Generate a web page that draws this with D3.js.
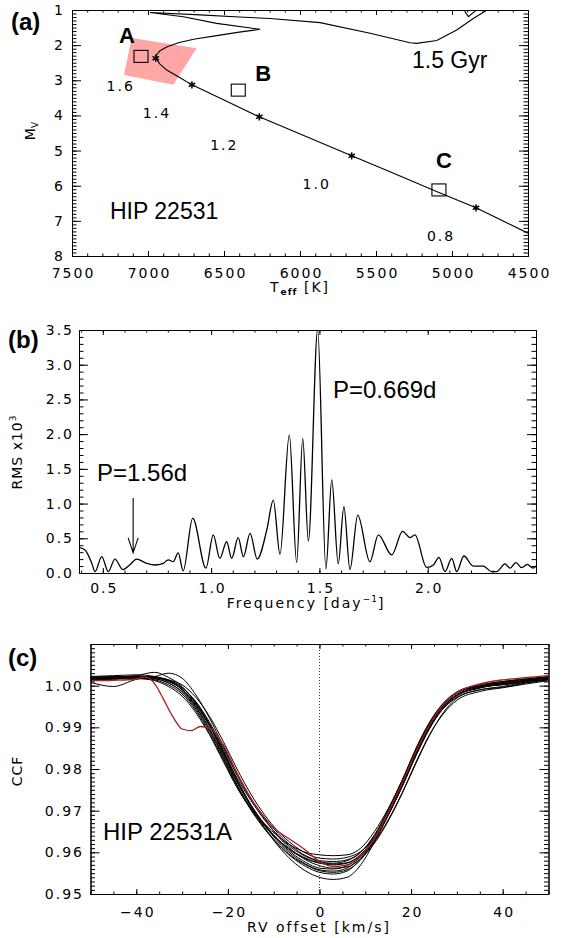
<!DOCTYPE html>
<html><head><meta charset="utf-8">
<script src="https://cdn.jsdelivr.net/npm/d3@7"></script>
<style>
body{margin:0;background:#fff;}
svg{display:block;background:#fff;}
</style></head>
<body><svg id="chart" width="564" height="938"></svg>
<script>
// ---------------- DATA ----------------
// Panel (a): isochrone, stars, squares, pink region
const aXTicks = [7500, 7000, 6500, 6000, 5500, 5000, 4500];
const aYTicks = [1, 2, 3, 4, 5, 6, 7, 8];
const isoTeff = [4500, 4842, 5086, 5400, 5660, 5960, 6268, 6500, 6711, 6800, 6877, 6921, 6949, 6945, 6921, 6877, 6800, 6700, 6548, 6400, 6263, 6548, 6768, 6987, 6658, 6400, 6197, 5868, 5539, 5276, 5232, 5100, 4969, 4860, 4761, 4700, 4930, 4914, 4892, 4834, 4800];
const isoMv   = [7.35, 6.63, 6.19, 5.62, 5.15, 4.60, 4.04, 3.56, 3.13, 2.90, 2.71, 2.54, 2.37, 2.28, 2.16, 2.05, 1.93, 1.83, 1.73, 1.63, 1.55, 1.38, 1.19, 1.07, 1.14, 1.20, 1.24, 1.36, 1.66, 1.93, 1.95, 1.87, 1.57, 1.24, 0.98, 0.50, 0.50, 1.05, 1.19, 0.98, 0.70];
const starTeff = [6949, 6711, 6268, 5660, 4842];
const starMv   = [2.37, 3.13, 4.04, 5.15, 6.63];
const massLabels = ["1.6", "1.4", "1.2", "1.0", "0.8"];
const boxLabels = ["A", "B", "C"];
const boxTeff = [7046, 6406, 5086];
const boxMv   = [2.32, 3.28, 6.12];
const regionTeff = [7107, 6680, 6834, 7158];
const regionMv   = [1.80, 2.09, 3.13, 2.85];

// Panel (b): periodogram
const bXTicks = [0.5, 1.0, 1.5, 2.0];
const bYTicks = [0, 0.5, 1.0, 1.5, 2.0, 2.5, 3.0, 3.5];
const freq = [0.39,0.418,0.449,0.464,0.495,0.525,0.556,0.592,0.625,0.656,0.702,0.741,0.779,0.802,0.825,0.848,0.871,0.915,0.976,1.01,1.04,1.072,1.095,1.125,1.149,1.18,1.213,1.257,1.287,1.318,1.361,1.395,1.423,1.449,1.492,1.53,1.557,1.587,1.613,1.641,1.677,1.733,1.772,1.834,1.884,1.918,1.941,1.995,2.026,2.052,2.08,2.111,2.134,2.167,2.21,2.257,2.295,2.318,2.357,2.38,2.407,2.434,2.46,2.487,2.5];
const rms  = [0.37,0.33,0.14,0.02,0.235,0.02,0.2,0.05,0.12,0.2,0.14,0.115,0.14,0.19,0.163,0.29,0.03,0.79,0.07,0.55,0.21,0.45,0.21,0.51,0.235,0.57,0.2,0.62,1.05,0.27,1.99,0.15,1.94,0.46,3.51,0.06,1.34,0.13,0.955,0.05,0.835,0.16,0.55,0.26,0.6,0.51,0.55,0.08,0.115,0.225,0.02,0.21,0.02,0.245,0.1,0.1,0.02,0.02,0.13,0.07,0.15,0.077,0.125,0.07,0.1];
const arrowFreq = 0.64;
const arrowFrom = 1.08;
const arrowTo = 0.29;

// Panel (c): CCF profiles
const cXTicks = [-40, -20, 0, 20, 40];
const cYTicks = [0.95, 0.96, 0.97, 0.98, 0.99, 1.00];
const rvGrid = [-50,-45,-40,-36,-33,-30,-27,-24,-21,-18,-15,-12,-9,-6,-3,0,3,6,9,12,15,18,21,24,27,30,35,40,45,50];
const ccfBlack = [
 [1.0012,1.0016,1.0021,1.0019,1.0010,0.9992,0.9956,0.9905,0.9840,0.9770,0.9710,0.9660,0.9615,0.9580,0.9555,0.9540,0.9535,0.9540,0.9570,0.9625,0.9690,0.9758,0.9832,0.9898,0.9945,0.9975,0.9994,1.0004,1.0012,1.0020],
 [1.0020,1.0022,1.0018,1.0012,0.9998,0.9975,0.9935,0.9882,0.9818,0.9755,0.9705,0.9668,0.9638,0.9615,0.9600,0.9594,0.9592,0.9594,0.9610,0.9650,0.9705,0.9772,0.9845,0.9908,0.9955,0.9982,0.9999,1.0008,1.0015,1.0020],
 [1.0016,1.0019,1.0022,1.0020,1.0012,0.9995,0.9962,0.9912,0.9850,0.9785,0.9728,0.9680,0.9638,0.9605,0.9582,0.9568,0.9562,0.9565,0.9585,0.9622,0.9675,0.9740,0.9812,0.9880,0.9935,0.9970,0.9990,0.9998,1.0008,1.0016],
 [1.0018,1.0020,1.0024,1.0032,1.0020,0.9998,0.9958,0.9905,0.9842,0.9778,0.9725,0.9678,0.9640,0.9610,0.9590,0.9578,0.9572,0.9575,0.9595,0.9635,0.9692,0.9760,0.9835,0.9902,0.9950,0.9978,0.9996,1.0004,1.0010,1.0015],
 [1.0008,0.9998,1.0015,1.0020,1.0014,0.9996,0.9960,0.9908,0.9845,0.9775,0.9715,0.9665,0.9625,0.9594,0.9572,0.9558,0.9555,0.9562,0.9590,0.9635,0.9695,0.9765,0.9838,0.9900,0.9945,0.9972,0.9990,0.9996,1.0006,1.0014],
 [1.0022,1.0024,1.0026,1.0022,1.0012,0.9990,0.9950,0.9895,0.9830,0.9762,0.9705,0.9658,0.9620,0.9590,0.9570,0.9556,0.9552,0.9558,0.9582,0.9628,0.9688,0.9758,0.9835,0.9902,0.9952,0.9982,1.0000,1.0010,1.0016,1.0022],
 [1.0014,1.0016,1.0018,1.0014,1.0002,0.9980,0.9940,0.9885,0.9822,0.9758,0.9702,0.9656,0.9618,0.9588,0.9566,0.9552,0.9548,0.9555,0.9585,0.9632,0.9695,0.9768,0.9848,0.9912,0.9958,0.9985,1.0002,1.0010,1.0016,1.0021],
 [1.0016,1.0018,1.0020,1.0022,1.0030,1.0018,0.9978,0.9922,0.9855,0.9788,0.9730,0.9684,0.9645,0.9614,0.9592,0.9580,0.9578,0.9582,0.9600,0.9640,0.9700,0.9770,0.9845,0.9908,0.9955,0.9983,0.9998,1.0002,1.0008,1.0016],
 [1.0012,1.0015,1.0019,1.0017,1.0006,0.9986,0.9948,0.9896,0.9834,0.9768,0.9712,0.9666,0.9628,0.9598,0.9576,0.9562,0.9560,0.9568,0.9590,0.9626,0.9678,0.9742,0.9815,0.9882,0.9932,0.9965,0.9986,0.9995,1.0004,1.0012],
 [1.0019,1.0021,1.0023,1.0021,1.0011,0.9991,0.9953,0.9902,0.9838,0.9770,0.9714,0.9668,0.9630,0.9602,0.9584,0.9574,0.9570,0.9574,0.9594,0.9636,0.9694,0.9762,0.9838,0.9904,0.9950,0.9978,0.9995,1.0003,1.0011,1.0019],
 [1.0015,1.0017,1.0019,1.0019,1.0014,1.0002,0.9972,0.9926,0.9866,0.9800,0.9740,0.9690,0.9650,0.9620,0.9598,0.9586,0.9584,0.9588,0.9602,0.9636,0.9690,0.9756,0.9830,0.9896,0.9946,0.9977,0.9996,1.0005,1.0012,1.0018],
 [1.0021,1.0019,1.0017,1.0016,1.0007,0.9984,0.9944,0.9890,0.9826,0.9760,0.9706,0.9664,0.9630,0.9604,0.9586,0.9576,0.9574,0.9580,0.9600,0.9642,0.9702,0.9772,0.9846,0.9910,0.9956,0.9983,0.9999,1.0007,1.0013,1.0020]
];
const rvRed  = [-50,-45,-40,-38,-36,-34,-32,-30,-28,-26,-24,-21,-18,-15,-12,-9,-6,-3,0,3,6,9,12,15,18,21,24,27,30,35,40,45,50];
const ccfRed = [1.0012,1.0013,1.0016,1.0021,1.0005,0.9966,0.9925,0.9896,0.9892,0.9902,0.9898,0.9858,0.9790,0.9730,0.9682,0.9650,0.9628,0.9605,0.9578,0.9566,0.9570,0.9592,0.9634,0.9695,0.9765,0.9840,0.9905,0.9955,0.9983,1.0004,1.0014,1.0019,1.0024];

// ---------------- DRAWING ----------------
const svg = d3.select('#chart');
const BIG = 'Liberation Sans, Arial, sans-serif';
const TICKF = 'DejaVu Sans, sans-serif';

function axes(g, x, y, o) {
  const [L, R] = x.range(), [B, T] = y.range();
  const mk = (axis, tr, vals, len, fmt, pad) => {
    const a = g.append('g').attr('transform', tr)
      .call(axis.tickValues(vals).tickSize(-len).tickSizeOuter(0).tickPadding(pad || 0).tickFormat(fmt || (() => '')));
    a.select('.domain').attr('stroke', '#000').attr('stroke-width', 1);
    a.selectAll('line').attr('stroke', '#000').attr('stroke-width', 1);
    a.selectAll('text').attr('font-family', TICKF).attr('font-size', 14)
      .attr('letter-spacing', '2px').attr('fill', '#000');
    return a;
  };
  mk(d3.axisBottom(x), `translate(0,${B})`, o.xMinor, o.xLen / 2);
  mk(d3.axisBottom(x), `translate(0,${B})`, o.xMajor, o.xLen, o.xFmt, o.xPad).selectAll('text').attr('dx', 1);
  mk(d3.axisTop(x), `translate(0,${T})`, o.xMinor, o.xLen / 2);
  mk(d3.axisTop(x), `translate(0,${T})`, o.xMajor, o.xLen);
  mk(d3.axisLeft(y), `translate(${L},0)`, o.yMinor, o.yLen / 2);
  mk(d3.axisLeft(y), `translate(${L},0)`, o.yMajor, o.yLen, o.yFmt, o.yPad);
  mk(d3.axisRight(y), `translate(${R},0)`, o.yMinor, o.yLen / 2);
  mk(d3.axisRight(y), `translate(${R},0)`, o.yMajor, o.yLen);
}

function clip(id, x, y) {
  const [L, R] = x.range(), [B, T] = y.range();
  svg.append('clipPath').attr('id', id).append('rect')
    .attr('x', L).attr('y', T).attr('width', R - L).attr('height', B - T);
  return `url(#${id})`;
}

function bigText(txt, x, y, size, weight) {
  return svg.append('text').attr('x', x).attr('y', y).attr('font-family', BIG)
    .attr('font-size', size).attr('font-weight', weight || 'normal').attr('fill', '#000').text(txt);
}

// ===== Panel (a) =====
{
  const x = d3.scaleLinear().domain([7500, 4500]).range([72, 528]);
  const y = d3.scaleLinear().domain([8, 1]).range([256, 10]);
  const g = svg.append('g').attr('clip-path', clip('clipA', x, y));
  g.append('polygon')
    .attr('points', regionTeff.map((t, i) => [x(t), y(regionMv[i])].join(',')).join(' '))
    .attr('fill', '#ffa6a6').attr('stroke', 'none');
  const iso = isoTeff.map((t, i) => [t, isoMv[i]]);
  g.append('path').datum(iso)
    .attr('d', d3.line().x(d => x(d[0])).y(d => y(d[1])).curve(d3.curveLinear))
    .attr('fill', 'none').attr('stroke', '#000').attr('stroke-width', 1.1);
  boxTeff.forEach((t, i) => {
    g.append('rect').attr('x', x(t) - 7).attr('y', y(boxMv[i]) - 6)
      .attr('width', 14).attr('height', 12).attr('fill', 'none').attr('stroke', '#000').attr('stroke-width', 1.1);
  });
  const star = d3.symbol().type(d3.symbolAsterisk).size(38);
  starTeff.forEach((t, i) => {
    g.append('path').attr('d', star()).attr('transform', `translate(${x(t)},${y(starMv[i])})`)
      .attr('fill', 'none').attr('stroke', '#000').attr('stroke-width', 1.5);
  });
  axes(svg, x, y, {
    xMajor: aXTicks, xMinor: d3.range(4500, 7501, 100), xLen: 5, xPad: 12, xFmt: d => String(d),
    yMajor: aYTicks, yMinor: d3.range(10, 81).map(v => v / 10), yLen: 9, yPad: 7, yFmt: d => String(d)
  });
  // mass labels near the stars
  starTeff.forEach((t, i) => {
    svg.append('text').attr('x', x(t) - 35).attr('y', y(starMv[i]) + 33).attr('text-anchor', 'middle')
      .attr('font-family', TICKF).attr('font-size', 14).attr('letter-spacing', '2px').text(massLabels[i]);
  });
  const boxOff = [[-14, -13], [25, -9], [5, -22]];
  boxLabels.forEach((s, i) => {
    bigText(s, x(boxTeff[i]) + boxOff[i][0], y(boxMv[i]) + boxOff[i][1], 22, 'bold').attr('text-anchor', 'middle');
  });
  bigText('(a)', 11, 30, 24, 'bold');
  bigText('1.5 Gyr', 412, 67.5, 23);
  bigText('HIP 22531', 110, 219, 23);
  const tt = svg.append('text').attr('x', 270).attr('y', 292).attr('font-family', TICKF)
    .attr('font-size', 14).attr('letter-spacing', '2px');
  tt.append('tspan').text('T');
  tt.append('tspan').attr('dy', 3).attr('font-size', 9).attr('font-weight', 'bold').attr('letter-spacing', '1px').text('eff');
  tt.append('tspan').attr('dy', -3).text(' [K]');
  const my = svg.append('text').attr('transform', 'translate(35,131) rotate(-90)').attr('text-anchor', 'middle')
    .attr('font-family', TICKF).attr('font-size', 14);
  my.append('tspan').text('M');
  my.append('tspan').attr('dy', 3).attr('font-size', 9).text('V');
}

// ===== Panel (b) =====
{
  const x = d3.scaleLinear().domain([0.39, 2.5]).range([79, 536]);
  const y = d3.scaleLinear().domain([0, 3.5]).range([573, 330]);
  const g = svg.append('g').attr('clip-path', clip('clipB', x, y));
  g.append('path').datum(freq.map((f, i) => [f, rms[i]]))
    .attr('d', d3.line().x(d => x(d[0])).y(d => y(d[1])).curve(d3.curveMonotoneX))
    .attr('fill', 'none').attr('stroke', '#000').attr('stroke-width', 1.3);
  axes(svg, x, y, {
    xMajor: bXTicks, xMinor: d3.range(4, 26).map(v => v / 10), xLen: 5, xPad: 10, xFmt: d3.format('.1f'),
    yMajor: bYTicks, yMinor: d3.range(0, 36).map(v => v / 10), yLen: 9, yPad: 5, yFmt: d3.format('.1f')
  });
  // arrow
  const ax = x(arrowFreq), ya = y(arrowFrom), yb = y(arrowTo);
  svg.append('path').attr('d', `M${ax},${ya}V${yb}M${ax - 5},${yb - 15}L${ax},${yb}L${ax + 5},${yb - 15}`)
    .attr('fill', 'none').attr('stroke', '#000').attr('stroke-width', 1.1);
  bigText('(b)', 8, 348, 24, 'bold');
  bigText('P=0.669d', 333, 398, 24);
  bigText('P=1.56d', 97, 481, 24);
  const ft = svg.append('text').attr('x', 306).attr('y', 608).attr('text-anchor', 'middle')
    .attr('font-family', TICKF).attr('font-size', 14).attr('letter-spacing', '2px');
  ft.append('tspan').text('Frequency [day');
  ft.append('tspan').attr('dy', -6).attr('font-size', 9).attr('letter-spacing', '1px').text('−1');
  ft.append('tspan').attr('dy', 6).text(']');
  const rt = svg.append('text').attr('transform', 'translate(22,452) rotate(-90)').attr('text-anchor', 'middle')
    .attr('font-family', TICKF).attr('font-size', 14).attr('letter-spacing', '1px');
  rt.append('tspan').text('RMS x10');
  rt.append('tspan').attr('dy', -6).attr('font-size', 9).text('3');
}

// ===== Panel (c) =====
{
  const x = d3.scaleLinear().domain([-50, 50]).range([90.5, 548.5]);
  const y = d3.scaleLinear().domain([0.95, 1.01]).range([894, 644]);
  const g = svg.append('g').attr('clip-path', clip('clipC', x, y));
  const line = d3.line().x(d => x(d[0])).y(d => y(d[1])).curve(d3.curveMonotoneX);
  ccfBlack.forEach(c => {
    g.append('path').datum(rvGrid.map((r, i) => [r, c[i]])).attr('d', line)
      .attr('fill', 'none').attr('stroke', '#000').attr('stroke-width', 1);
  });
  g.append('path').datum(rvRed.map((r, i) => [r, ccfRed[i]])).attr('d', line)
    .attr('fill', 'none').attr('stroke', '#b01c1c').attr('stroke-width', 1.3);
  g.append('line').attr('x1', x(0)).attr('x2', x(0)).attr('y1', y(1.01)).attr('y2', y(0.95))
    .attr('stroke', '#333').attr('stroke-width', 1).attr('stroke-dasharray', '1,2');
  axes(svg, x, y, {
    xMajor: cXTicks, xMinor: d3.range(-50, 51, 5), xLen: 5, xPad: 13, xFmt: d => d < 0 ? '−' + Math.abs(d) : String(d),
    yMajor: cYTicks, yMinor: d3.range(950, 1011).map(v => v / 1000), yLen: 9, yPad: 6.5, yFmt: d3.format('.2f')
  });
  bigText('(c)', 8, 666, 24, 'bold');
  bigText('HIP 22531A', 103, 840, 24);
  svg.append('text').attr('x', 319).attr('y', 932).attr('text-anchor', 'middle')
    .attr('font-family', TICKF).attr('font-size', 14).attr('letter-spacing', '2px').text('RV offset [km/s]');
  svg.append('text').attr('transform', 'translate(22,771) rotate(-90)').attr('text-anchor', 'middle')
    .attr('font-family', TICKF).attr('font-size', 14).attr('letter-spacing', '1px').text('CCF');
}
</script>
</body></html>
